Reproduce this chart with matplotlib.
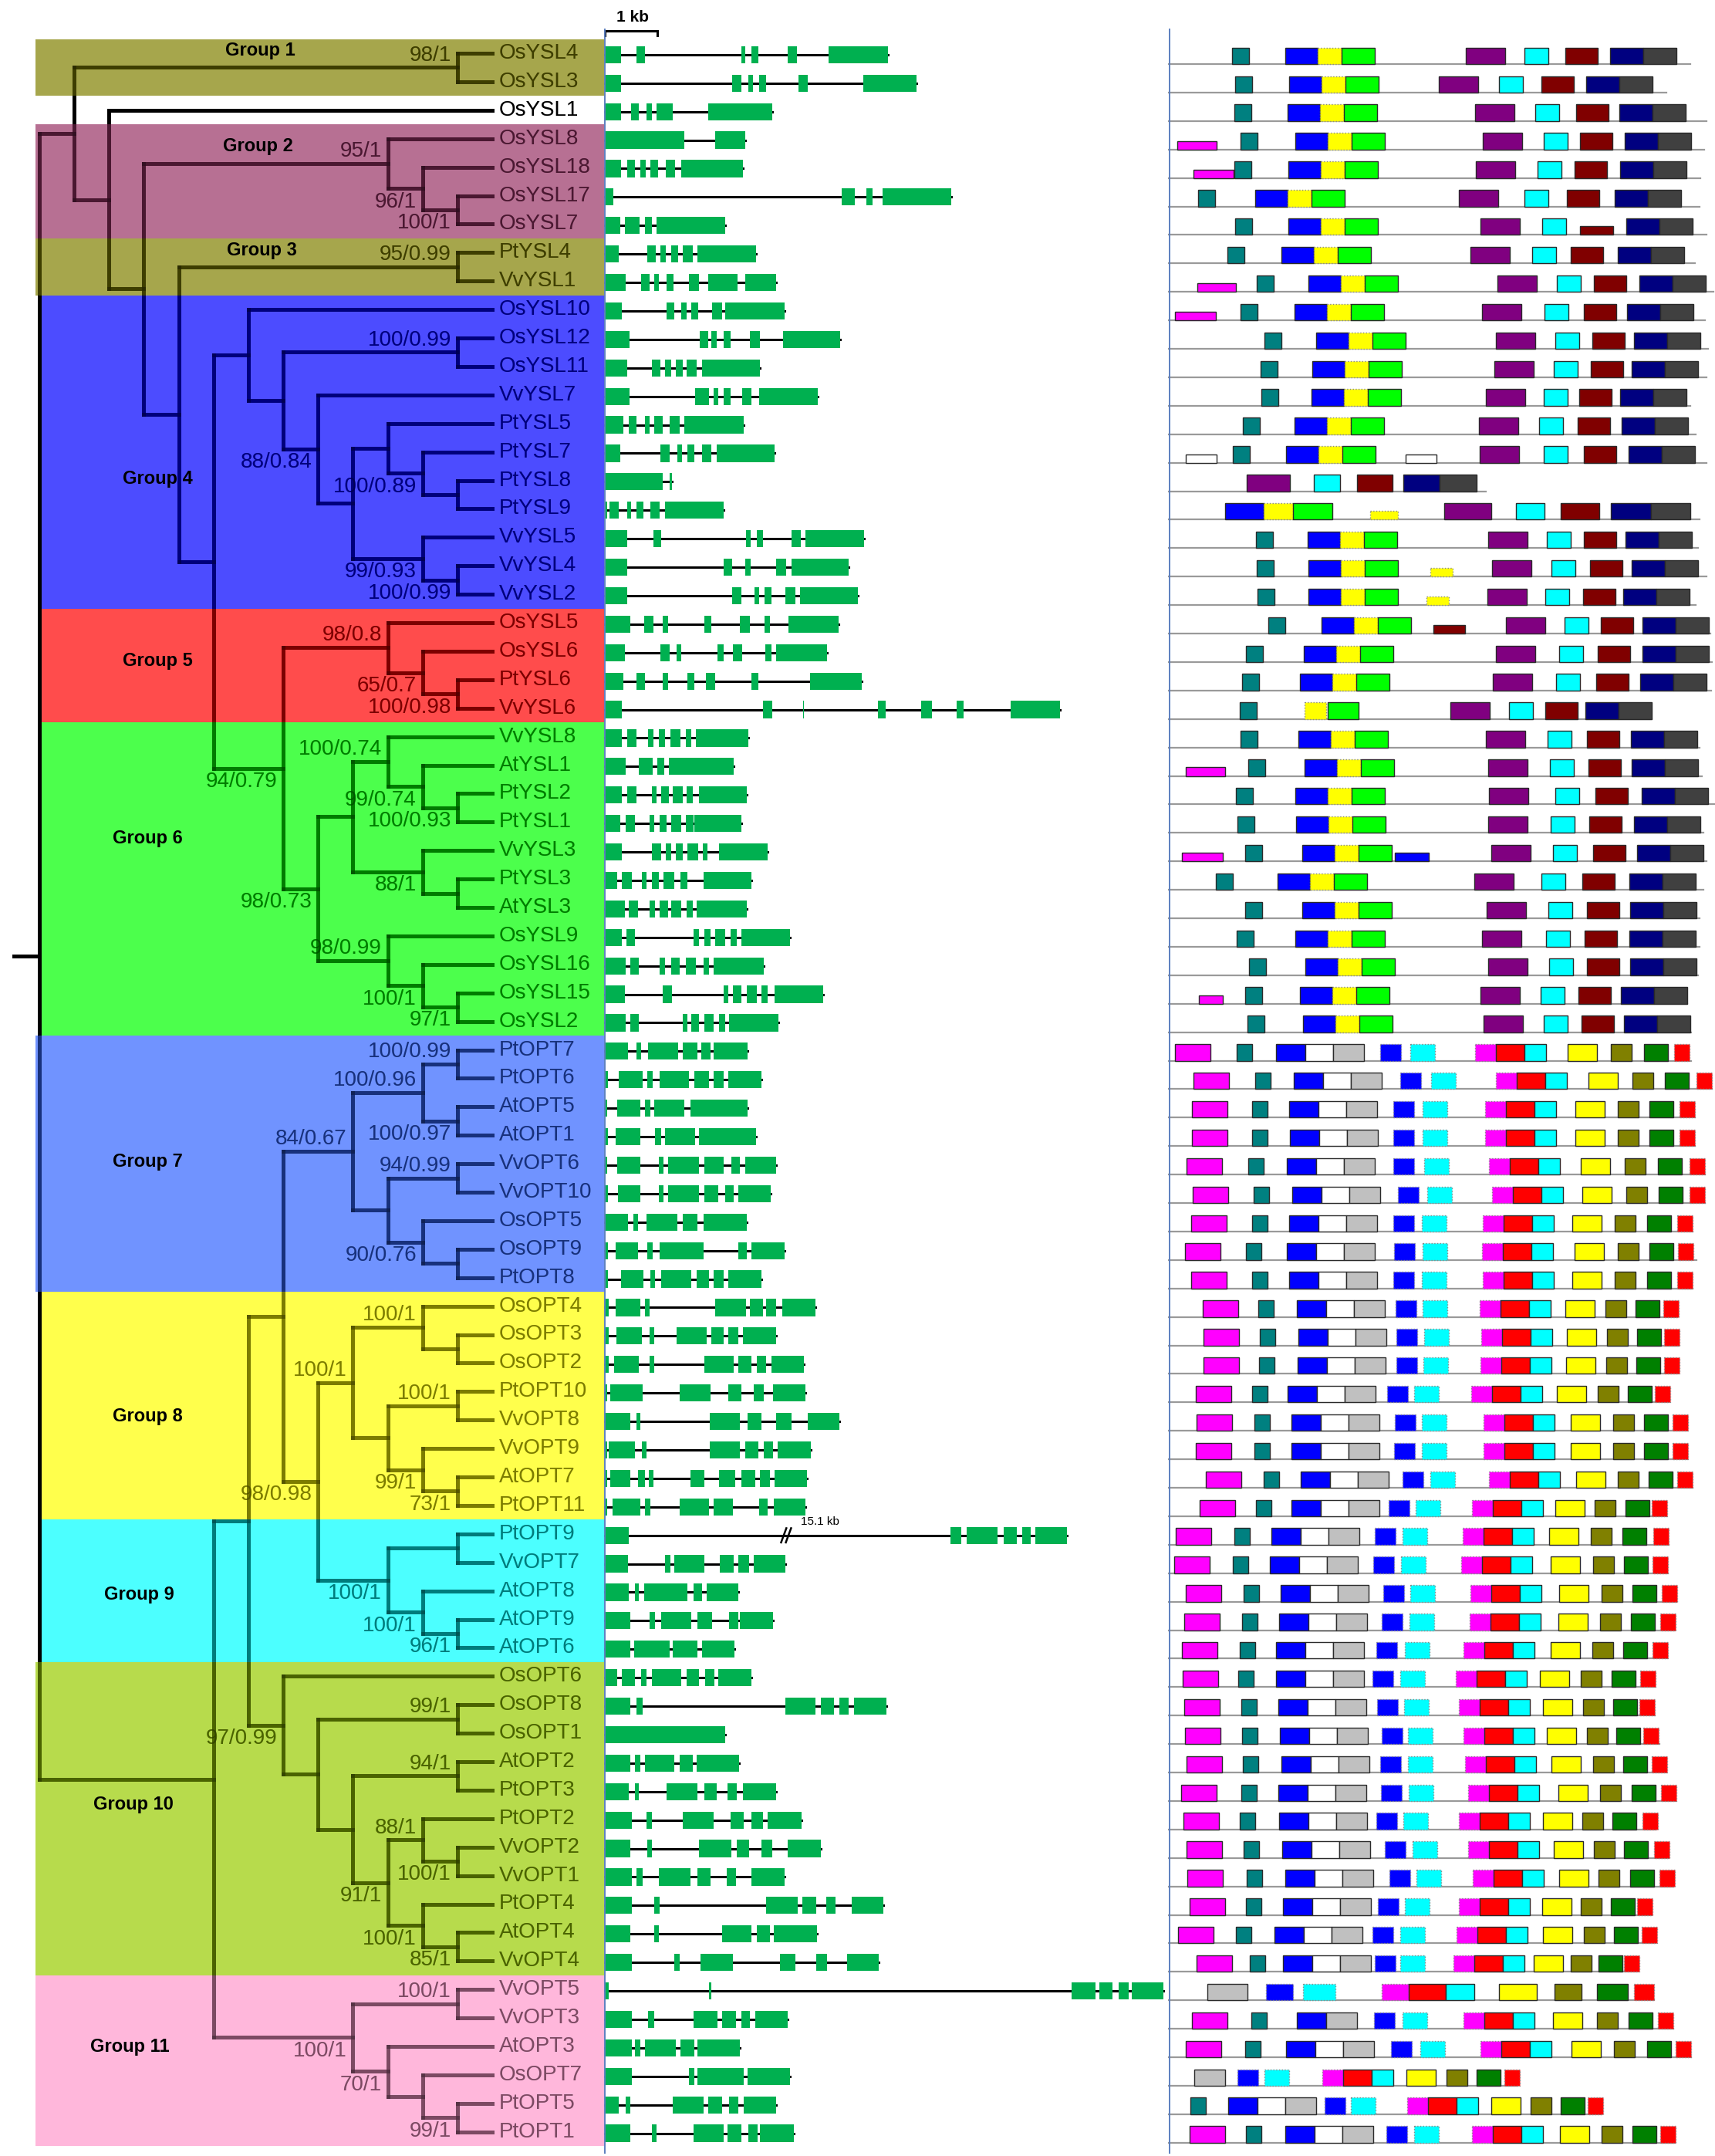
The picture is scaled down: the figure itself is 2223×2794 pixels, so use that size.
#!/usr/bin/env python3
"""
YSL / OPT phylogeny with gene structures and conserved motifs
-------------------------------------------------------------
Tree with coloured clade bands on the left, exon/intron maps in the
middle and motif maps on the right. Saves out.png.
"""

import matplotlib
matplotlib.use("Agg")
import matplotlib.pyplot as plt
from matplotlib.patches import Rectangle

plt.rcParams["font.family"] = ["Liberation Sans", "DejaVu Sans"]

# ---------------------------------------------------------------- data
LEAVES = [
    "OsYSL4", "OsYSL3", "OsYSL1", "OsYSL8", "OsYSL18", "OsYSL17", "OsYSL7",
    "PtYSL4", "VvYSL1", "OsYSL10", "OsYSL12", "OsYSL11", "VvYSL7", "PtYSL5",
    "PtYSL7", "PtYSL8", "PtYSL9", "VvYSL5", "VvYSL4", "VvYSL2", "OsYSL5",
    "OsYSL6", "PtYSL6", "VvYSL6", "VvYSL8", "AtYSL1", "PtYSL2", "PtYSL1",
    "VvYSL3", "PtYSL3", "AtYSL3", "OsYSL9", "OsYSL16", "OsYSL15", "OsYSL2",
    "PtOPT7", "PtOPT6", "AtOPT5", "AtOPT1", "VvOPT6", "VvOPT10", "OsOPT5",
    "OsOPT9", "PtOPT8", "OsOPT4", "OsOPT3", "OsOPT2", "PtOPT10", "VvOPT8",
    "VvOPT9", "AtOPT7", "PtOPT11", "PtOPT9", "VvOPT7", "AtOPT8", "AtOPT9",
    "AtOPT6", "OsOPT6", "OsOPT8", "OsOPT1", "AtOPT2", "PtOPT3", "PtOPT2",
    "VvOPT2", "VvOPT1", "PtOPT4", "AtOPT4", "VvOPT4", "VvOPT5", "VvOPT3",
    "AtOPT3", "OsOPT7", "PtOPT5", "PtOPT1",
]


def clade(level, support, *children):
    return {"level": level, "support": support, "children": list(children)}


# level = node depth in the cladogram (tips sit at 13)
G1 = clade(12, "98/1", "OsYSL4", "OsYSL3")
G2 = clade(10, "95/1", "OsYSL8",
           clade(11, "96/1", "OsYSL18", clade(12, "100/1", "OsYSL17", "OsYSL7")))
G3 = clade(12, "95/0.99", "PtYSL4", "VvYSL1")
G4 = clade(6, "", "OsYSL10",
           clade(7, "", clade(12, "100/0.99", "OsYSL12", "OsYSL11"),
                 clade(8, "88/0.84", "VvYSL7",
                       clade(9, "",
                             clade(10, "", "PtYSL5",
                                   clade(11, "100/0.89", "PtYSL7",
                                         clade(12, "", "PtYSL8", "PtYSL9"))),
                             clade(11, "99/0.93", "VvYSL5",
                                   clade(12, "100/0.99", "VvYSL4", "VvYSL2"))))))
G5 = clade(10, "98/0.8", "OsYSL5",
           clade(11, "65/0.7", "OsYSL6", clade(12, "100/0.98", "PtYSL6", "VvYSL6")))
G6 = clade(8, "98/0.73",
           clade(9, "",
                 clade(10, "100/0.74", "VvYSL8",
                       clade(11, "99/0.74", "AtYSL1",
                             clade(12, "100/0.93", "PtYSL2", "PtYSL1"))),
                 clade(11, "88/1", "VvYSL3", clade(12, "", "PtYSL3", "AtYSL3"))),
           clade(10, "98/0.99", "OsYSL9",
                 clade(11, "100/1", "OsYSL16", clade(12, "97/1", "OsYSL15", "OsYSL2"))))
YSL = clade(1, "", G1,
            clade(2, "", "OsYSL1",
                  clade(3, "", G2,
                        clade(4, "", G3,
                              clade(5, "", G4, clade(7, "94/0.79", G5, G6))))))

G7 = clade(9, "84/0.67",
           clade(11, "100/0.96", clade(12, "100/0.99", "PtOPT7", "PtOPT6"),
                 clade(12, "100/0.97", "AtOPT5", "AtOPT1")),
           clade(10, "", clade(12, "94/0.99", "VvOPT6", "VvOPT10"),
                 clade(11, "90/0.76", "OsOPT5", clade(12, "", "OsOPT9", "PtOPT8"))))
G8 = clade(9, "100/1",
           clade(11, "100/1", "OsOPT4", clade(12, "", "OsOPT3", "OsOPT2")),
           clade(10, "", clade(12, "100/1", "PtOPT10", "VvOPT8"),
                 clade(11, "99/1", "VvOPT9", clade(12, "73/1", "AtOPT7", "PtOPT11"))))
G9 = clade(10, "100/1", clade(12, "", "PtOPT9", "VvOPT7"),
           clade(11, "100/1", "AtOPT8", clade(12, "96/1", "AtOPT9", "AtOPT6")))
G10 = clade(7, "97/0.99", "OsOPT6",
            clade(8, "", clade(12, "99/1", "OsOPT8", "OsOPT1"),
                  clade(9, "", clade(12, "94/1", "AtOPT2", "PtOPT3"),
                        clade(10, "91/1",
                              clade(11, "88/1", "PtOPT2",
                                    clade(12, "100/1", "VvOPT2", "VvOPT1")),
                              clade(11, "100/1", "PtOPT4",
                                    clade(12, "85/1", "AtOPT4", "VvOPT4"))))))
G11 = clade(9, "100/1", clade(12, "100/1", "VvOPT5", "VvOPT3"),
            clade(10, "70/1", "AtOPT3",
                  clade(11, "", "OsOPT7", clade(12, "99/1", "PtOPT5", "PtOPT1"))))
OPT = clade(5, "", clade(6, "", clade(7, "", G7, clade(8, "98/0.98", G8, G9)), G10), G11)
TREE = clade(0, "", YSL, OPT)

GROUP_NAMES = ["Group 1", "Group 2", "Group 3", "Group 4", "Group 5", "Group 6",
               "Group 7", "Group 8", "Group 9", "Group 10", "Group 11"]
GROUP_FIRST = ["OsYSL4", "OsYSL8", "PtYSL4", "OsYSL10", "OsYSL5", "VvYSL8",
               "PtOPT7", "OsOPT4", "PtOPT9", "OsOPT6", "VvOPT5"]
GROUP_LAST = ["OsYSL3", "OsYSL7", "VvYSL1", "VvYSL2", "VvYSL6", "OsYSL2",
              "PtOPT8", "PtOPT11", "AtOPT6", "VvOPT4", "PtOPT1"]
GROUP_COLORS = ["#808000", "#993366", "#808000", "#0000FF", "#FF0000", "#00FF00",
                "#3366FF", "#FFFF00", "#00FFFF", "#99CC00", "#FF99CC"]

# exons (start, end) in kb, one list per leaf
GENE_EXONS = [
    [(0, .31), (.60, .76), (2.60, 2.67), (2.79, 2.93), (3.49, 3.66), (4.26, 5.40)],
    [(0, .31), (2.43, 2.60), (2.74, 2.82), (2.94, 3.08), (3.69, 3.87), (4.93, 5.94)],
    [(0, .31), (.5, .65), (.8, .9), (.99, 1.3), (1.97, 3.19)],
    [(0, 1.51), (2.11, 2.67)],
    [(0, .31), (.42, .57), (.67, .78), (.87, 1.02), (1.16, 1.34), (1.45, 2.63)],
    [(0, .16), (4.51, 4.77), (4.99, 5.1), (5.29, 6.6)],
    [(0, .29), (.38, .66), (.76, .9), (.98, 2.3)],
    [(0, .27), (.81, .97), (1.06, 1.16), (1.26, 1.39), (1.49, 1.67), (1.77, 2.88)],
    [(0, .4), (.69, .85), (.94, 1.03), (1.17, 1.31), (1.6, 1.8), (1.97, 2.53), (2.67, 3.27)],
    [(0, .33), (1.17, 1.33), (1.46, 1.56), (1.65, 1.78), (2.05, 2.24), (2.3, 3.42)],
    [(0, .47), (1.81, 1.97), (2.03, 2.13), (2.26, 2.4), (2.76, 2.95), (3.39, 4.49)],
    [(0, .43), (.9, 1.06), (1.15, 1.26), (1.35, 1.48), (1.56, 1.75), (1.85, 2.95)],
    [(0, .47), (1.72, 1.98), (2.07, 2.16), (2.27, 2.4), (2.62, 2.79), (2.94, 4.06)],
    [(0, .35), (.45, .6), (.76, .85), (.94, 1.1), (1.24, 1.42), (1.52, 2.64)],
    [(0, .3), (1.06, 1.23), (1.375, 1.47), (1.58, 1.7), (1.85, 2.03), (2.13, 3.24)],
    [(0, 1.11), (1.24, 1.28)],
    [(0, .05), (.09, .26), (.42, .5), (.61, .74), (.87, 1.04), (1.14, 2.26)],
    [(0, .42), (.92, 1.08), (2.69, 2.78), (2.89, 3.01), (3.56, 3.74), (3.82, 4.94)],
    [(0, .42), (2.26, 2.42), (2.68, 2.78), (3.26, 3.45), (3.56, 4.65)],
    [(0, .42), (2.43, 2.61), (2.86, 2.94), (3.04, 3.18), (3.44, 3.63), (3.72, 4.82)],
    [(0, .49), (.75, .92), (1.11, 1.21), (1.9, 2.03), (2.58, 2.77), (3.04, 3.15), (3.5, 4.46)],
    [(0, .38), (1.06, 1.23), (1.37, 1.46), (2.14, 2.27), (2.44, 2.62), (3.06, 3.18), (3.27, 4.23)],
    [(0, .35), (.6, .76), (1.11, 1.21), (1.57, 1.71), (1.92, 2.11), (2.79, 2.92), (3.91, 4.89)],
    [(0, .33), (3.01, 3.19), (3.78, 3.8), (5.2, 5.35), (6.03, 6.23), (6.71, 6.84), (7.74, 8.68)],
    [(0, .32), (.42, .6), (.82, .92), (1.03, 1.15), (1.25, 1.44), (1.54, 1.65), (1.73, 2.73)],
    [(0, .39), (.64, .91), (1.0, 1.13), (1.22, 2.45)],
    [(0, .32), (.42, .6), (.89, .99), (1.08, 1.22), (1.29, 1.48), (1.56, 1.68), (1.79, 2.7)],
    [(0, .3), (.39, .57), (.86, .94), (1.04, 1.18), (1.27, 1.46), (1.55, 1.69), (1.7, 2.61)],
    [(0, .33), (.89, 1.07), (1.16, 1.27), (1.35, 1.48), (1.58, 1.78), (1.87, 1.96), (2.18, 3.11)],
    [(0, .23), (.33, .51), (.7, .8), (.89, 1.03), (1.12, 1.32), (1.44, 1.57), (1.88, 2.79)],
    [(0, .38), (.46, .63), (.86, .96), (1.05, 1.2), (1.27, 1.46), (1.56, 1.68), (1.75, 2.7)],
    [(0, .32), (.41, .58), (1.69, 1.79), (1.89, 2.01), (2.11, 2.3), (2.39, 2.51), (2.6, 3.53)],
    [(0, .39), (.48, .65), (1.05, 1.15), (1.27, 1.42), (1.54, 1.73), (1.88, 1.99), (2.08, 3.03)],
    [(0, .38), (1.11, 1.28), (2.26, 2.36), (2.44, 2.6), (2.7, 2.89), (2.99, 3.1), (3.23, 4.16)],
    [(0, .39), (.48, .65), (1.48, 1.58), (1.65, 1.79), (1.89, 2.08), (2.18, 2.29), (2.37, 3.31)],
    [(0, .44), (.6, .69), (.82, 1.39), (1.48, 1.76), (1.84, 2.02), (2.08, 2.72)],
    [(0, .06), (.27, .72), (.81, .91), (1.04, 1.61), (1.7, 1.98), (2.07, 2.26), (2.35, 2.99)],
    [(0, .04), (.23, .68), (.77, .87), (.94, 1.51), (1.63, 2.72)],
    [(0, .06), (.2, .67), (.96, 1.07), (1.14, 1.72), (1.8, 2.88)],
    [(0, .04), (.23, .67), (1.03, 1.12), (1.2, 1.79), (1.9, 2.27), (2.41, 2.58), (2.68, 3.27)],
    [(0, .06), (.25, .68), (1.03, 1.12), (1.2, 1.79), (1.9, 2.16), (2.29, 2.46), (2.54, 3.16)],
    [(0, .44), (.54, .63), (.79, 1.38), (1.49, 1.77), (1.88, 2.7)],
    [(0, .06), (.2, .63), (.81, .91), (1.04, 1.88), (2.54, 2.71), (2.8, 3.42)],
    [(0, .06), (.31, .73), (.87, .96), (1.07, 1.64), (1.75, 1.99), (2.08, 2.26), (2.35, 2.99)],
    [(0, .07), (.2, .67), (.76, .85), (2.11, 2.69), (2.76, 3.01), (3.08, 3.27), (3.38, 4.01)],
    [(0, .07), (.22, .7), (.85, .94), (1.37, 1.94), (2.03, 2.27), (2.35, 2.54), (2.63, 3.26)],
    [(0, .07), (.18, .65), (.85, .94), (1.89, 2.46), (2.54, 2.8), (2.89, 3.07), (3.18, 3.8)],
    [(0, .04), (.11, .72), (1.42, 2.01), (2.35, 2.61), (2.84, 3.03), (3.2, 3.82)],
    [(0, .49), (.6, .68), (2.0, 2.58), (2.72, 2.99), (3.26, 3.56), (3.87, 4.47)],
    [(0, .04), (.08, .58), (.7, .8), (2.0, 2.57), (2.68, 2.92), (3.03, 3.2), (3.3, 3.92)],
    [(0, .04), (.11, .49), (.63, .77), (.84, .93), (1.63, 1.89), (2.18, 2.48), (2.61, 2.87),
     (2.95, 3.15), (3.23, 3.85)],
    [(0, .04), (.14, .67), (.77, .87), (1.42, 1.98), (2.07, 2.44), (2.94, 3.11), (3.22, 3.82)],
    [(0, .45), (6.59, 6.8), (6.89, 7.49), (7.6, 7.85), (7.95, 8.12), (8.2, 8.81)],
    [(0, .44), (1.14, 1.25), (1.32, 1.89), (2.19, 2.45), (2.54, 2.75), (2.84, 3.44)],
    [(0, .46), (.57, .65), (.75, 1.58), (1.69, 1.85), (1.94, 2.55)],
    [(0, .48), (.86, .96), (1.07, 1.64), (1.77, 2.04), (2.37, 2.54), (2.58, 3.2)],
    [(0, .48), (.56, 1.23), (1.3, 1.76), (1.85, 2.47)],
    [(0, .23), (.33, .58), (.69, .79), (.89, 1.45), (1.56, 1.8), (1.91, 2.09), (2.16, 2.8)],
    [(0, .49), (.61, .72), (3.44, 4.01), (4.12, 4.37), (4.47, 4.65), (4.75, 5.37)],
    [(0, 2.3)],
    [(0, .48), (.57, .67), (.77, 1.33), (1.42, 1.68), (1.75, 2.56)],
    [(0, .46), (.57, .65), (1.17, 1.77), (1.89, 2.13), (2.34, 2.51), (2.63, 3.26)],
    [(0, .51), (.79, .89), (1.48, 2.08), (2.39, 2.65), (2.8, 3.01), (3.11, 3.75)],
    [(0, .49), (.81, .89), (1.8, 2.41), (2.51, 2.75), (2.99, 3.19), (3.49, 4.12)],
    [(0, .51), (.61, .72), (1.03, 1.63), (1.76, 2.01), (2.32, 2.5), (2.79, 3.42)],
    [(0, .52), (.94, 1.04), (3.07, 3.68), (3.77, 4.03), (4.22, 4.4), (4.7, 5.31)],
    [(0, .48), (.94, 1.03), (2.23, 2.79), (2.89, 3.15), (3.22, 4.04)],
    [(0, .52), (1.32, 1.42), (1.82, 2.44), (3.34, 3.63), (4.03, 4.23), (4.62, 5.22)],
    [(0, .07), (1.98, 2.03), (8.89, 9.35), (9.42, 9.68), (9.8, 9.98), (10.05, 10.65)],
    [(0, .52), (.82, .94), (1.69, 2.14), (2.23, 2.5), (2.6, 2.77), (2.87, 3.49)],
    [(0, .51), (.58, .68), (.77, 1.35), (1.44, 1.7), (1.77, 2.57)],
    [(0, .52), (1.6, 1.7), (1.77, 2.64), (2.72, 3.53)],
    [(0, .26), (.39, .49), (1.3, 1.88), (1.97, 2.23), (2.37, 2.54), (2.64, 3.27)],
    [(0, .49), (.89, .99), (1.69, 2.26), (2.34, 2.6), (2.73, 2.91), (2.96, 3.6)],
]
BREAK_ROW, BREAK_KB, BREAK_TEXT = "PtOPT9", 3.46, "15.1 kb"

# YSL motif starts (aa): teal, blue-yellow-green, purple, cyan, maroon, navy-grey, length
YSL_MOTIFS = [
    (83, 152, 386, 462, 515, 573, 677), (87, 157, 351, 429, 484, 542, 646),
    (86, 155, 398, 476, 529, 585, 698), (94, 165, 408, 487, 534, 592, 695),
    (86, 156, 399, 479, 527, 586, 690), (39, 113, 377, 462, 517, 579, 689),
    (87, 156, 405, 485, None, 594, 698), (77, 147, 392, 472, 522, 583, 683),
    (115, 182, 427, 504, 552, 611, 707), (94, 164, 407, 488, 539, 595, 696),
    (125, 192, 425, 502, 550, 604, 700), (120, 187, 423, 500, 548, 601, 698),
    (121, 186, 412, 487, 533, 586, 677), (97, 164, 403, 481, 531, 588, 684),
    (84, 153, 404, 487, 539, 597, 698), (None, None, 102, 189, 245, 305, 412),
    (None, 74, 358, 451, 509, 574, 689), (114, 181, 415, 491, 539, 593, 687),
    (115, 182, 420, 497, 547, 601, 698), (116, 182, 414, 489, 538, 590, 684),
    (130, 199, 438, 514, 561, 615, 703), (101, 176, 425, 507, 557, 615, 705),
    (96, 171, 421, 503, 555, 612, 704), (93, None, 366, 442, 489, 541, 627),
    (94, 169, 412, 492, 543, 600, 689), (104, 177, 415, 495, 545, 601, 692),
    (88, 165, 416, 502, 554, 614, 708), (90, 166, 415, 496, 546, 604, 694),
    (100, 174, 419, 499, 551, 608, 698), (62, 142, 397, 484, 537, 598, 694),
    (100, 174, 413, 493, 543, 599, 689), (89, 165, 407, 490, 540, 598, 689),
    (105, 178, 415, 494, 543, 599, 687), (100, 171, 405, 483, 532, 587, 673),
    (103, 175, 409, 487, 536, 591, 678),
]
YSL_SCALE = {15: 1.1, 16: 1.2}
# odd motifs: (kind, start, width)
YSL_EXTRA = {
    3: [("mag_s", 12, 51)], 4: [("mag_s", 33, 52)], 6: [("mar_s", 534, 43)],
    8: [("mag_s", 38, 50)], 9: [("mag_s", 9, 53)],
    14: [("white_s", 23, 40), ("white_s", 308, 40)],
    16: [("yel_s", 262, 36)], 18: [("yel_s", 340, 29)], 19: [("yel_s", 335, 29)],
    20: [("mar_s", 344, 41)], 23: [("yellow", 177, 28), ("green", 207, 40)],
    25: [("mag_s", 23, 51)], 28: [("mag_s", 18, 53), ("blue_s", 294, 44)],
    33: [("mag_s", 40, 31)],
}

# OPT motif starts (aa): magenta, teal, blue-white-silver, blue:, cyan:,
# magenta:-red-cyan, yellow, olive, green, red:, length
OPT_MOTIFS = [
    (9, 89, 140, 275, 314, 398, 518, 574, 617, 656, 678),
    (33, 113, 163, 301, 341, 425, 545, 602, 644, 685, 705),
    (31, 109, 157, 292, 330, 411, 528, 583, 624, 663, 683),
    (31, 109, 158, 292, 330, 411, 528, 583, 624, 663, 683),
    (24, 104, 154, 292, 332, 416, 535, 592, 635, 676, 696),
    (32, 111, 161, 298, 336, 420, 537, 594, 636, 676, 696),
    (30, 109, 157, 292, 329, 408, 524, 579, 621, 660, 680),
    (22, 101, 154, 293, 330, 407, 527, 583, 624, 661, 685),
    (30, 109, 157, 292, 329, 408, 524, 579, 621, 660, 680),
    (45, 117, 167, 295, 330, 404, 515, 567, 606, 642, 660),
    (46, 119, 169, 296, 332, 406, 517, 569, 608, 643, 662),
    (46, 118, 168, 296, 331, 405, 516, 568, 607, 643, 661),
    (36, 109, 155, 284, 319, 393, 504, 557, 596, 631, 649),
    (37, 112, 160, 294, 329, 409, 522, 577, 617, 654, 673),
    (36, 112, 160, 293, 329, 409, 522, 577, 617, 654, 673),
    (49, 124, 172, 304, 340, 416, 529, 583, 623, 660, 680),
    (41, 114, 160, 286, 321, 394, 502, 553, 593, 627, 646),
    (10, 86, 134, 268, 304, 382, 494, 548, 589, 629, 649),
    (8, 84, 132, 266, 302, 380, 496, 551, 591, 628, 648),
    (23, 98, 146, 279, 314, 392, 507, 562, 602, 640, 659),
    (21, 96, 144, 277, 313, 391, 506, 560, 600, 638, 657),
    (18, 93, 140, 270, 307, 383, 496, 550, 590, 628, 647),
    (19, 91, 140, 265, 301, 373, 482, 535, 575, 612, 631),
    (21, 95, 143, 271, 306, 377, 486, 538, 577, 611, 631),
    (22, 96, 145, 277, 311, 383, 491, 543, 581, 616, 637),
    (24, 97, 147, 275, 311, 385, 497, 551, 590, 627, 646),
    (17, 95, 143, 276, 312, 389, 506, 560, 601, 639, 658),
    (20, 93, 144, 270, 305, 377, 486, 537, 576, 615, 632),
    (24, 98, 148, 281, 317, 389, 500, 552, 591, 630, 649),
    (25, 102, 152, 287, 322, 395, 507, 558, 599, 637, 655),
    (28, 101, 149, 272, 307, 377, 485, 535, 574, 608, 627),
    (13, 88, 138, 265, 301, 374, 486, 539, 578, 614, 632),
    (37, 106, 149, 268, 301, 370, 474, 522, 558, 591, 609),
    (None, None, 51, 127, 175, 277, 429, 501, 556, 604, 630),
    (31, 108, 167, 267, 304, 383, 499, 556, 597, 635, 655),
    (23, 100, 153, 289, 327, 405, 523, 578, 621, 658, 678),
    (None, None, 34, 90, 125, 200, 309, 361, 400, 436, 453),
    (None, 29, 78, 203, 237, 310, 419, 470, 509, 544, 562),
    (28, 101, 152, 283, 319, 394, 508, 562, 602, 638, 657),
]
OPT_CORE_VARIANT = {"VvOPT5": "S", "VvOPT3": "BS", "OsOPT7": "S"}
OPT_SCALE = {"VvOPT5": 1.3}

# ---------------------------------------------------------------- layout
FIG_W, FIG_H = 2223, 2794
ROW0_PX, ROW_PX = 69, 36.9          # y pixel of first leaf, row spacing
TREE_X0, LEVEL_PX = 51, 45.15        # x pixel of root, width of one level
GENE_X0, KB_PX = 784, 68
GENE_LEFT, MOTIF_LEFT = 783, 1514
TIP_LEVEL = 13
GROUP_LABEL_PX = [(337, 65), (334, 189), (339, 324), (204, 620), (204, 856),
                  (191, 1086), (191, 1505), (191, 1835), (180, 2066),
                  (173, 2338), (168, 2652)]
BAND_COVERS_ROOT = [True, True, True, False, False, False, True, False, False, True, True]

YSL_W = {"teal": 22, "blue": 42, "yellow": 31, "green": 43, "purple": 51,
         "cyan": 31, "maroon": 42, "navy": 43, "grey": 43}
OPT_W = {"M": 46, "T": 20, "B": 38, "W": 36, "S": 40, "bd": 27, "cd": 32,
         "md": 27, "red": 37, "cy": 28, "Y": 38, "O": 27, "G": 31, "rd": 20}
COL = {"teal": "#008080", "blue": "#0000FF", "yellow": "#FFFF00", "green": "#00FF00",
       "purple": "#800080", "cyan": "#00FFFF", "maroon": "#800000", "navy": "#000080",
       "grey": "#404040", "magenta": "#FF00FF", "white": "#FFFFFF",
       "M": "#FF00FF", "T": "#008080", "B": "#0000FF", "W": "#FFFFFF", "S": "#C0C0C0",
       "bd": "#0000FF", "cd": "#00FFFF", "md": "#FF00FF", "red": "#FF0000",
       "cy": "#00FFFF", "Y": "#FFFF00", "O": "#808000", "G": "#008000", "rd": "#FF0000"}
DOTTED = {"yellow", "bd", "cd", "md", "rd"}
EXTRA_KIND = {"mag_s": ("magenta", True), "white_s": ("white", True),
              "yel_s": ("yellow", True), "mar_s": ("maroon", True),
              "blue_s": ("blue", True), "yellow": ("yellow", False),
              "green": ("green", False)}

# tree ink is drawn once under the bands and once, faintly, above them
INK_PASSES = [dict(color="black", zorder=1), dict(color="black", alpha=0.3, zorder=5)]


def row_of(py):
    return (py - ROW0_PX) / ROW_PX


def level_of(px):
    return (px - TREE_X0) / LEVEL_PX


def collect(node, segs, texts, first=True):
    if isinstance(node, str):
        return LEAVES.index(node), TIP_LEVEL
    ys = []
    for i, ch in enumerate(node["children"]):
        y, lvl = collect(ch, segs, texts, i == 0)
        segs.append(([node["level"], lvl], [y, y]))
        ys.append(y)
    segs.append(([node["level"]] * 2, [ys[0], ys[-1]]))
    y = (ys[0] + ys[-1]) / 2
    if node["support"]:
        above = first or node["support"] == "98/0.99"
        texts.append((node["level"] - 0.17, y - 0.43 if above else y + 0.47,
                      node["support"], "right"))
    return y, node["level"]


def motif(ax, x, w, row, kind, short=False):
    h = 0.3 if short else 0.58
    bottom = row + 0.38
    dotted = kind in DOTTED
    ax.add_patch(Rectangle((x, bottom - h), w, h, facecolor=COL[kind],
                           edgecolor="#8a8a8a" if dotted else "#2a2a2a",
                           lw=1.0, ls=":" if dotted else "-", zorder=3))


def main():
    fig = plt.figure(figsize=(FIG_W / 100, FIG_H / 100), dpi=100)
    rows = (row_of(FIG_H), row_of(0))

    # ---------------- tree
    ax = fig.add_axes([0, 0, GENE_LEFT / FIG_W, 1])
    ax.set_xlim(level_of(0), level_of(GENE_LEFT))
    ax.set_ylim(*rows)
    ax.set_axis_off()

    segs, texts = [], []
    y_root, _ = collect(TREE, segs, texts)
    segs.append(([level_of(18), 0], [y_root, y_root]))
    for i, name in enumerate(LEAVES):
        texts.append((level_of(647), i, name, "left"))
    for ink in INK_PASSES:
        for xs, ys in segs:
            ax.plot(xs, ys, lw=3.6, solid_capstyle="projecting", **ink)
        for x, y, s, ha in texts:
            ax.text(x, y, s, ha=ha, va="center", fontsize=20, **ink)

    right = level_of(GENE_LEFT)
    for g, name in enumerate(GROUP_NAMES):
        r0 = LEAVES.index(GROUP_FIRST[g]) - 0.5
        r1 = LEAVES.index(GROUP_LAST[g]) + 0.5
        x0 = level_of(46) if BAND_COVERS_ROOT[g] else level_of(54)
        ax.add_patch(Rectangle((x0, r0), right - x0, r1 - r0, facecolor=GROUP_COLORS[g],
                               edgecolor="none", alpha=0.7, zorder=3))
        lx, ly = GROUP_LABEL_PX[g]
        ax.text(level_of(lx), row_of(ly), name, ha="center", va="center",
                fontsize=17, fontweight="bold", zorder=6)

    # ---------------- gene structures
    axg = fig.add_axes([GENE_LEFT / FIG_W, 0, (MOTIF_LEFT - GENE_LEFT) / FIG_W, 1])
    axg.set_xlim((GENE_LEFT - GENE_X0) / KB_PX, (MOTIF_LEFT - GENE_X0) / KB_PX)
    axg.set_ylim(*rows)
    axg.set_axis_off()
    for i, exons in enumerate(GENE_EXONS):
        yc = i + 0.05
        axg.plot([0, exons[-1][1]], [yc, yc], color="black", lw=2.2, zorder=1)
        for s, e in exons:
            axg.add_patch(Rectangle((s, yc - 0.3), e - s, 0.6, facecolor="#00B050",
                                    edgecolor="none", zorder=2))
    br = LEAVES.index(BREAK_ROW) + 0.05
    for dx in (-0.05, 0.04):
        axg.plot([BREAK_KB + dx - 0.05, BREAK_KB + dx + 0.05], [br + 0.25, br - 0.25],
                 color="black", lw=1.8, zorder=3)
    axg.text(BREAK_KB + 0.27, br - 0.3, BREAK_TEXT, ha="left", va="bottom", fontsize=11)

    bar_y = row_of(40)
    axg.plot([0, 1], [bar_y, bar_y], color="black", lw=2.2)
    for x in (0, 1):
        axg.plot([x, x], [bar_y, bar_y + 0.15], color="black", lw=2.2)
    axg.text(0.53, row_of(22), "1 kb", ha="center", va="center", fontsize=15,
             fontweight="bold")
    axg.plot([(GENE_LEFT - GENE_X0) / KB_PX + 0.01] * 2, [row_of(38), row_of(2790)],
             color="#5B7FC0", lw=1.4, zorder=4)

    # ---------------- motifs
    axm = fig.add_axes([MOTIF_LEFT / FIG_W, 0, (FIG_W - MOTIF_LEFT) / FIG_W, 1])
    axm.set_xlim(0, FIG_W - MOTIF_LEFT)
    axm.set_ylim(*rows)
    axm.set_axis_off()
    axm.plot([1.5, 1.5], [row_of(38), row_of(2790)], color="#5B7FC0", lw=1.4, zorder=4)

    for i, (teal, core, purple, cyan, maroon, tail, end) in enumerate(YSL_MOTIFS):
        sc = YSL_SCALE.get(i, 1.0)
        axm.plot([0, end], [i + 0.38] * 2, color="#9a9a9a", lw=1.6, zorder=2)
        if teal is not None:
            motif(axm, teal, YSL_W["teal"] * sc, i, "teal")
        for start, keys in ((core, ("blue", "yellow", "green")), (purple, ("purple",)),
                            (cyan, ("cyan",)), (maroon, ("maroon",)),
                            (tail, ("navy", "grey"))):
            if start is None:
                continue
            x = start
            for k in keys:
                motif(axm, x, YSL_W[k] * sc, i, k)
                x += YSL_W[k] * sc
        for kind, start, w in YSL_EXTRA.get(i, []):
            colour, short = EXTRA_KIND[kind]
            motif(axm, start, w, i, colour, short)

    n_ysl = len(YSL_MOTIFS)
    for j, vals in enumerate(OPT_MOTIFS):
        i = n_ysl + j
        name = LEAVES[i]
        m, t, core, bd, cd, trio, yl, ol, gr, rd, end = vals
        sc = OPT_SCALE.get(name, 1.0)
        axm.plot([0, end], [i + 0.38] * 2, color="#9a9a9a", lw=1.6, zorder=2)
        variant = OPT_CORE_VARIANT.get(name, "BWS")
        for start, keys in ((m, ("M",)), (t, ("T",)), (core, tuple(variant)),
                            (bd, ("bd",)), (cd, ("cd",)), (trio, ("md", "red", "cy")),
                            (yl, ("Y",)), (ol, ("O",)), (gr, ("G",)), (rd, ("rd",))):
            if start is None:
                continue
            x = start
            for k in keys:
                motif(axm, x, OPT_W[k] * sc, i, k)
                x += OPT_W[k] * sc

    fig.savefig("out.png", dpi=100)
    print("[INFO] Saved out.png")


if __name__ == "__main__":
    main()
